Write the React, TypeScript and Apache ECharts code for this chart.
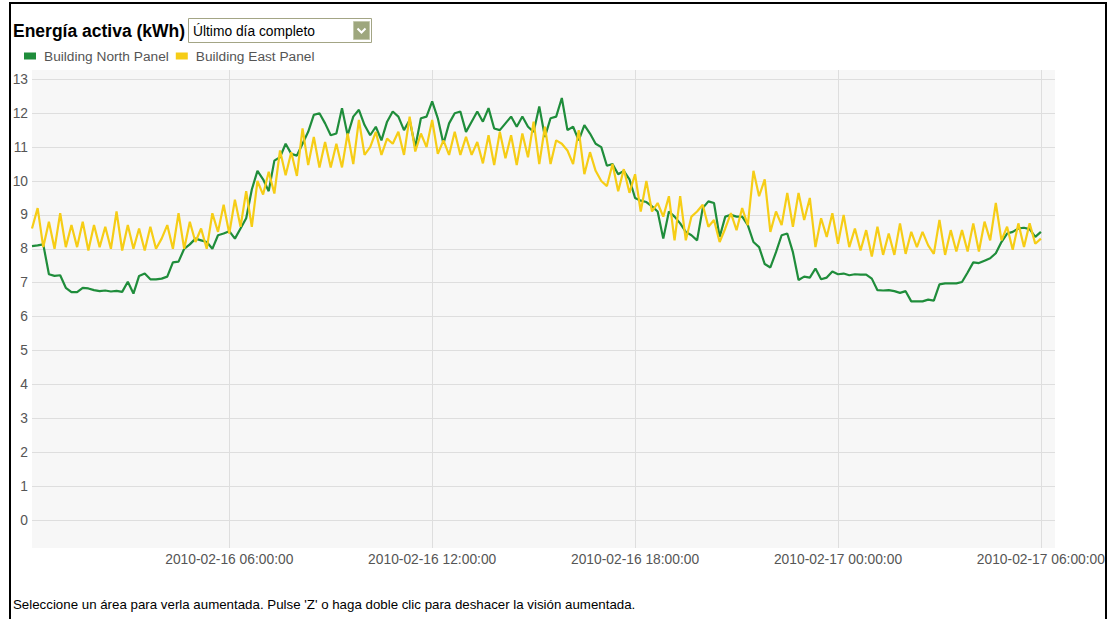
import React, { useEffect, useRef } from "react";
import * as echarts from "echarts";

const TITLE = "Energía activa (kWh)";
const PERIOD_LABEL = "Último día completo";
const FOOTER = "Seleccione un área para verla aumentada. Pulse 'Z' o haga doble clic para deshacer la visión aumentada.";
const SERIES_NAMES = ["Building North Panel", "Building East Panel"];
const SERIES_COLORS = ["#1f8d3b", "#f6cd16"];

// 10-minute readings from 2010-02-16 00:10 to 2010-02-17 06:00
const START_TIME = [2010, 1, 16, 0, 10];
const AXIS_END_TIME = [2010, 1, 17, 6, 25];
const TICK_ORIGIN_TIME = [2010, 1, 16, 0, 0];
const STEP_MINUTES = 10;
const TICK_HOURS = 6;

const northPanel = [
  8.08, 8.1, 8.13, 7.25, 7.2, 7.22, 6.85, 6.72, 6.72, 6.85,
  6.83, 6.78, 6.75, 6.77, 6.74, 6.76, 6.73, 7.03, 6.68, 7.2,
  7.27, 7.1, 7.1, 7.12, 7.18, 7.6, 7.62, 8.0, 8.13, 8.3,
  8.25, 8.2, 8.0, 8.4, 8.45, 8.52, 8.3, 8.6, 8.9, 9.75,
  10.3, 10.05, 9.7, 10.6, 10.7, 11.1, 10.8, 10.75, 11.1, 11.45,
  11.95, 12.0, 11.7, 11.35, 11.4, 12.15, 11.35, 11.9, 12.1, 11.65,
  11.35, 11.6, 11.2, 11.75, 12.05, 11.9, 11.5, 11.8, 11.0, 11.85,
  11.9, 12.35, 11.85, 11.1, 11.7, 12.0, 12.05, 11.45, 11.75, 12.05,
  11.75, 12.15, 11.55, 11.5, 11.7, 11.9, 11.6, 11.9, 11.6, 11.45,
  12.2, 11.3, 11.85, 11.9, 12.45, 11.5, 11.6, 11.2, 11.65, 11.4,
  11.1, 11.0, 10.45, 10.5, 10.2, 10.3, 10.05, 9.5, 9.42, 9.38,
  9.25, 9.1, 8.3, 9.1, 8.95, 8.75, 8.5, 8.4, 8.25, 9.2,
  9.4, 9.35, 8.35, 8.95, 9.0, 8.95, 8.95, 8.7, 8.2, 8.05,
  7.55, 7.45, 7.9, 8.4, 8.45, 7.9, 7.08, 7.18, 7.15, 7.42,
  7.1, 7.15, 7.33, 7.25, 7.27, 7.22, 7.25, 7.24, 7.24, 7.12,
  6.78, 6.77, 6.78, 6.75, 6.7, 6.75, 6.45, 6.45, 6.45, 6.5,
  6.47, 6.95, 6.98, 6.98, 6.98, 7.02, 7.3, 7.6, 7.58, 7.65,
  7.72, 7.87, 8.2, 8.45, 8.5, 8.6, 8.62, 8.58, 8.35, 8.5,
];

const eastPanel = [
  8.6, 9.2, 8.05, 8.8, 8.0, 9.05, 8.05, 8.7, 8.05, 8.8,
  7.95, 8.7, 8.05, 8.65, 8.0, 9.1, 7.95, 8.7, 8.0, 8.6,
  7.95, 8.65, 8.0, 8.3, 8.7, 8.0, 9.05, 8.0, 8.8, 8.2,
  8.6, 8.0, 9.05, 8.5, 9.3, 8.45, 9.45, 8.65, 9.7, 8.65,
  10.0, 9.6, 10.27, 9.63, 10.9, 10.17, 10.85, 10.15, 11.55, 10.47,
  11.3, 10.4, 11.15, 10.4, 11.1, 10.4, 11.4, 10.5, 11.8, 10.77,
  11.0, 11.45, 10.77, 11.25, 11.1, 11.45, 10.77, 11.9, 10.87, 11.4,
  11.0, 11.8, 10.8, 11.2, 10.77, 11.45, 10.77, 11.3, 10.77, 11.15,
  10.52, 11.35, 10.47, 11.45, 10.67, 11.35, 10.47, 11.4, 10.7, 11.75,
  10.5, 11.6, 10.5, 11.2, 11.1, 10.9, 10.5, 11.5, 10.2, 10.85,
  10.3, 10.0, 9.85, 10.5, 9.7, 10.35, 9.65, 10.2, 9.1, 10.0,
  9.1, 9.35, 8.95, 9.55, 8.25, 9.55, 8.25, 8.95, 9.1, 9.3,
  8.65, 8.85, 8.2, 8.6, 9.05, 8.55, 9.2, 8.7, 10.3, 9.55,
  10.05, 8.5, 9.1, 8.7, 9.65, 8.65, 9.65, 8.85, 9.5, 8.05,
  8.9, 8.35, 9.05, 8.15, 9.0, 8.05, 8.6, 7.95, 8.55, 7.77,
  8.65, 7.82, 8.45, 7.82, 8.75, 7.85, 8.5, 8.05, 8.5, 8.1,
  7.85, 8.85, 7.82, 8.55, 7.92, 8.55, 7.92, 8.75, 7.92, 8.8,
  8.25, 9.35, 8.25, 8.65, 7.97, 8.75, 8.05, 8.75, 8.15, 8.3,
];

const Y_MIN = 0;
const Y_MAX = 13;

const FONT = "'Liberation Sans', Arial, Helvetica, sans-serif";

// plot frame (pixels)
const PLOT_LEFT = 32;
const PLOT_WIDTH = 1023;
const PLOT_TOP = 70;
const PLOT_HEIGHT = 478;
const DATA_TOP = 79.3;
const DATA_HEIGHT = 440.7;

function toTime(parts: number[]) {
  return new Date(parts[0], parts[1], parts[2], parts[3], parts[4], 0).getTime();
}

export default function App() {
  const ref = useRef<HTMLDivElement>(null);

  useEffect(() => {
    if (!ref.current) return;
    const chart = echarts.init(ref.current, null, { renderer: "svg" });
    const start = toTime(START_TIME);
    const end = toTime(AXIS_END_TIME);
    const origin = toTime(TICK_ORIGIN_TIME);
    const step = STEP_MINUTES * 60 * 1000;
    const mk = (vals: number[]) => vals.map((v, i) => [start + i * step, v]);
    const tickMs = TICK_HOURS * 3600 * 1000;

    // the label axis starts at midnight so its 6-hour ticks fall on 06:00, 12:00 ...
    const pxPerMs = PLOT_WIDTH / (end - start);
    const labelGridLeft = PLOT_LEFT - (start - origin) * pxPerMs;
    const labelGridWidth = PLOT_WIDTH + (start - origin) * pxPerMs;

    chart.setOption({
      animation: false,
      backgroundColor: "#ffffff",
      textStyle: { fontFamily: FONT },
      legend: {
        data: SERIES_NAMES,
        left: 19,
        top: 44,
        icon: "rect",
        itemWidth: 12,
        itemHeight: 7,
        itemGap: 7,
        textStyle: { color: "#555555", fontSize: 13.7, fontFamily: FONT, padding: [0, 0, 0, 3] },
      },
      grid: [
        {
          left: PLOT_LEFT,
          top: DATA_TOP,
          width: PLOT_WIDTH,
          height: DATA_HEIGHT,
          containLabel: false,
          outerBoundsMode: "none",
          show: false,
        },
        {
          left: labelGridLeft,
          top: PLOT_TOP,
          width: labelGridWidth,
          height: PLOT_HEIGHT,
          containLabel: false,
          outerBoundsMode: "none",
          show: false,
        },
      ],
      xAxis: [
        {
          type: "value",
          gridIndex: 0,
          min: start,
          max: end,
          show: false,
          splitLine: { show: false },
        },
        {
          type: "value",
          gridIndex: 1,
          min: origin,
          max: end,
          interval: tickMs,
          axisLine: { show: false },
          axisTick: { show: false },
          splitLine: {
            show: true,
            showMinLine: false,
            showMaxLine: false,
            lineStyle: { color: "#dedede", width: 1 },
          },
          axisLabel: {
            formatter: (v: number) => echarts.time.format(v, "{yyyy}-{MM}-{dd} {HH}:{mm}:{ss}", false),
            color: "#555555",
            fontSize: 13.8,
            fontFamily: FONT,
            margin: 4,
            showMinLabel: false,
            showMaxLabel: false,
            hideOverlap: false,
          },
        },
      ],
      yAxis: [
        {
          type: "value",
          gridIndex: 0,
          min: Y_MIN,
          max: Y_MAX,
          interval: 1,
          axisLine: { show: false },
          axisTick: { show: false },
          splitLine: { show: true, lineStyle: { color: "#dedede", width: 1 } },
          axisLabel: { color: "#555555", fontSize: 13.8, fontFamily: FONT, margin: 4 },
        },
        {
          type: "value",
          gridIndex: 1,
          min: 0,
          max: 1,
          show: false,
          splitLine: { show: false },
        },
      ],
      series: [
        {
          name: SERIES_NAMES[0],
          type: "line",
          xAxisIndex: 0,
          yAxisIndex: 0,
          data: mk(northPanel),
          showSymbol: false,
          symbol: "none",
          color: SERIES_COLORS[0],
          lineStyle: { color: SERIES_COLORS[0], width: 2.2 },
        },
        {
          name: SERIES_NAMES[1],
          type: "line",
          xAxisIndex: 0,
          yAxisIndex: 0,
          data: mk(eastPanel),
          showSymbol: false,
          symbol: "none",
          color: SERIES_COLORS[1],
          lineStyle: { color: SERIES_COLORS[1], width: 2.2 },
        },
      ],
      graphic: [
        {
          type: "rect",
          z: -10,
          silent: true,
          shape: { x: PLOT_LEFT, y: PLOT_TOP, width: PLOT_WIDTH, height: PLOT_HEIGHT },
          style: { fill: "#f7f7f7" },
        },
        { type: "rect", shape: { x: 9, y: 2, width: 2, height: 617 }, style: { fill: "#000" }, silent: true },
        { type: "rect", shape: { x: 9, y: 2, width: 1098, height: 2 }, style: { fill: "#000" }, silent: true },
        { type: "rect", shape: { x: 1105, y: 2, width: 2, height: 617 }, style: { fill: "#000" }, silent: true },
        {
          type: "text",
          x: 13,
          y: 31,
          style: {
            text: TITLE,
            fill: "#000",
            font: `bold 17.5px ${FONT}`,
            verticalAlign: "middle",
          },
        },
        {
          type: "rect",
          shape: { x: 188.5, y: 18.5, width: 183, height: 24 },
          style: { fill: "#ffffff", stroke: "#a3a585", lineWidth: 1 },
        },
        {
          type: "text",
          x: 193,
          y: 31,
          style: {
            text: PERIOD_LABEL,
            fill: "#000",
            font: `13.8px ${FONT}`,
            verticalAlign: "middle",
          },
        },
        {
          type: "rect",
          shape: { x: 353.5, y: 21.5, width: 16, height: 18 },
          style: { fill: "#9ea77e", stroke: "#c3c8ad", lineWidth: 1 },
        },
        {
          type: "polyline",
          shape: { points: [[357.5, 28.5], [361.5, 32.5], [365.5, 28.5]] },
          style: { stroke: "#ffffff", lineWidth: 2, fill: null },
        },
        {
          type: "text",
          x: 13,
          y: 604,
          style: {
            text: FOOTER,
            fill: "#000",
            font: `13.3px ${FONT}`,
            verticalAlign: "middle",
          },
        },
      ],
    });

    return () => chart.dispose();
  }, []);

  return (
    <div
      ref={ref}
      style={{ position: "fixed", left: 0, top: 0, width: 1114, height: 619, background: "#fff" }}
    />
  );
}
